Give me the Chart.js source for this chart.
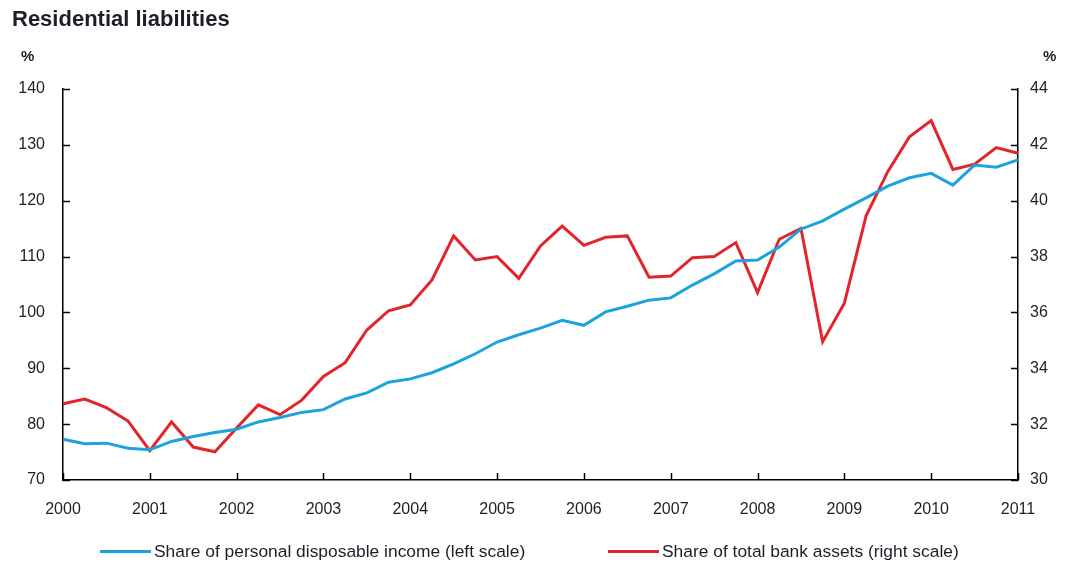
<!DOCTYPE html>
<html>
<head>
<meta charset="utf-8">
<script src="https://cdn.jsdelivr.net/npm/chart.js@4.4.1/dist/chart.umd.min.js"></script>
<style>
  body { margin: 0; background: #fff; font-family: "Liberation Sans", Arial, sans-serif; color: #1e1e28; }
  #wrap { position: relative; width: 1066px; height: 567px; }
  #chart { position: absolute; left: 0; top: 0; }
  .title { position: absolute; left: 12px; top: 6px; font-size: 22px; font-weight: bold; }
  .unit { position: absolute; top: 47px; font-size: 15px; font-weight: bold; }
  .legend-item { position: absolute; top: 541px; height: 20px; line-height: 20px; font-size: 17.4px; white-space: nowrap; }
  .swatch { display: inline-block; width: 51px; height: 3px; vertical-align: middle; margin-right: 3px; position: relative; top: -1px; }
</style>
</head>
<body>
<div id="wrap">
  <canvas id="chart" width="1066" height="567"></canvas>
  <div class="title">Residential liabilities</div>
  <div class="unit" style="left:21px">%</div>
  <div class="unit" style="left:1043px">%</div>
  <div class="legend-item" style="left:100px"><span class="swatch" style="background:#1ca2de"></span>Share of personal disposable income (left scale)</div>
  <div class="legend-item" style="left:608px"><span class="swatch" style="background:#e2252b"></span>Share of total bank assets (right scale)</div>
</div>
<script>
// quarterly, 2000 Q1 .. 2011 Q1
const years = [2000, 2001, 2002, 2003, 2004, 2005, 2006, 2007, 2008, 2009, 2010, 2011];
const quarters = [];
years.forEach(year => {
  for (let q = 1; q <= 4; q++) {
    if (year === 2011 && q > 1) break;
    quarters.push(`${year} Q${q}`);
  }
});

// share of personal disposable income (left scale, %)
const incomeShare = [
  77.3, 76.5, 76.6, 75.7, 75.4, 76.9, 77.8, 78.5, 79.1, 80.4, 81.2, 82.1,
  82.6, 84.5, 85.6, 87.5, 88.1, 89.2, 90.8, 92.6, 94.7, 96.0, 97.2, 98.6,
  97.7, 100.1, 101.1, 102.2, 102.6, 104.9, 106.9, 109.2, 109.4, 111.7, 114.9, 116.4,
  118.5, 120.5, 122.6, 124.1, 124.9, 122.8, 126.4, 126.0, 127.3
];

// share of total bank assets (right scale, %)
const bankShare = [
  32.73, 32.9, 32.59, 32.11, 31.05, 32.08, 31.18, 31.01, 31.86, 32.69, 32.34, 32.86,
  33.71, 34.2, 35.37, 36.06, 36.27, 37.16, 38.74, 37.88, 38.0, 37.22, 38.38, 39.09,
  38.4, 38.69, 38.74, 37.26, 37.3, 37.96, 38.0, 38.5, 36.71, 38.62, 39.01, 34.95,
  36.33, 39.46, 41.04, 42.29, 42.87, 41.12, 41.31, 41.9, 41.7
];

const leftTicks = [70, 80, 90, 100, 110, 120, 130, 140];
const rightTicks = [30, 32, 34, 36, 38, 40, 42, 44];

const tickFont = { family: "'Liberation Sans', Arial, sans-serif", size: 16 };
const textColor = '#1e1e28';

// short tick marks pointing into the plot
const innerTicks = {
  id: 'innerTicks',
  afterDraw(chart) {
    const ctx = chart.ctx;
    const { left, right, bottom } = chart.chartArea;
    const x = chart.scales.x;
    const yl = chart.scales.y;
    const yr = chart.scales.y1;
    ctx.save();
    ctx.strokeStyle = '#000';
    ctx.lineWidth = 1.5;
    ctx.beginPath();
    leftTicks.forEach(v => {
      const py = Math.round(yl.getPixelForValue(v)) + 0.5;
      ctx.moveTo(left, py);
      ctx.lineTo(left + 7, py);
    });
    rightTicks.forEach(v => {
      const py = Math.round(yr.getPixelForValue(v)) + 0.5;
      ctx.moveTo(right, py);
      ctx.lineTo(right - 7, py);
    });
    quarters.forEach((q, i) => {
      if (!q.endsWith('Q1')) return;
      const px = Math.round(x.getPixelForValue(i)) + 0.5;
      ctx.moveTo(px, bottom);
      ctx.lineTo(px, bottom - 7);
    });
    ctx.stroke();
    ctx.restore();
  }
};

new Chart(document.getElementById('chart'), {
  type: 'line',
  data: {
    labels: quarters,
    datasets: [
      {
        label: 'Share of personal disposable income (left scale)',
        data: incomeShare,
        borderColor: '#1ca2de',
        borderWidth: 3,
        pointRadius: 0,
        tension: 0,
        yAxisID: 'y',
      },
      {
        label: 'Share of total bank assets (right scale)',
        data: bankShare,
        borderColor: '#e2252b',
        borderWidth: 3,
        pointRadius: 0,
        tension: 0,
        yAxisID: 'y1',
      },
    ],
  },
  options: {
    responsive: false,
    animation: false,
    layout: { padding: { top: 89, left: 0, right: 0, bottom: 0 } },
    plugins: {
      legend: { display: false },
      tooltip: { enabled: false },
    },
    scales: {
      x: {
        type: 'category',
        offset: false,
        grid: { display: false, drawTicks: false },
        border: { display: true, color: '#000', width: 1.5 },
        ticks: {
          autoSkip: false,
          maxRotation: 0,
          padding: 20,
          color: textColor,
          font: tickFont,
          callback(value) {
            const label = quarters[value];
            return label.endsWith('Q1') ? label.slice(0, 4) : '';
          },
        },
        afterFit(scale) { scale.height = 87; },
      },
      y: {
        position: 'left',
        min: 70,
        max: 140,
        grid: { display: false, drawTicks: false },
        border: { display: true, color: '#000', width: 1.5 },
        ticks: { stepSize: 10, padding: 18, color: textColor, font: tickFont },
        afterFit(scale) { scale.width = 63; },
      },
      y1: {
        position: 'right',
        min: 30,
        max: 44,
        grid: { display: false, drawTicks: false },
        border: { display: true, color: '#000', width: 1.5 },
        ticks: { stepSize: 2, padding: 12, color: textColor, font: tickFont },
        afterFit(scale) { scale.width = 48; },
      },
    },
  },
  plugins: [innerTicks],
});
</script>
</body>
</html>
